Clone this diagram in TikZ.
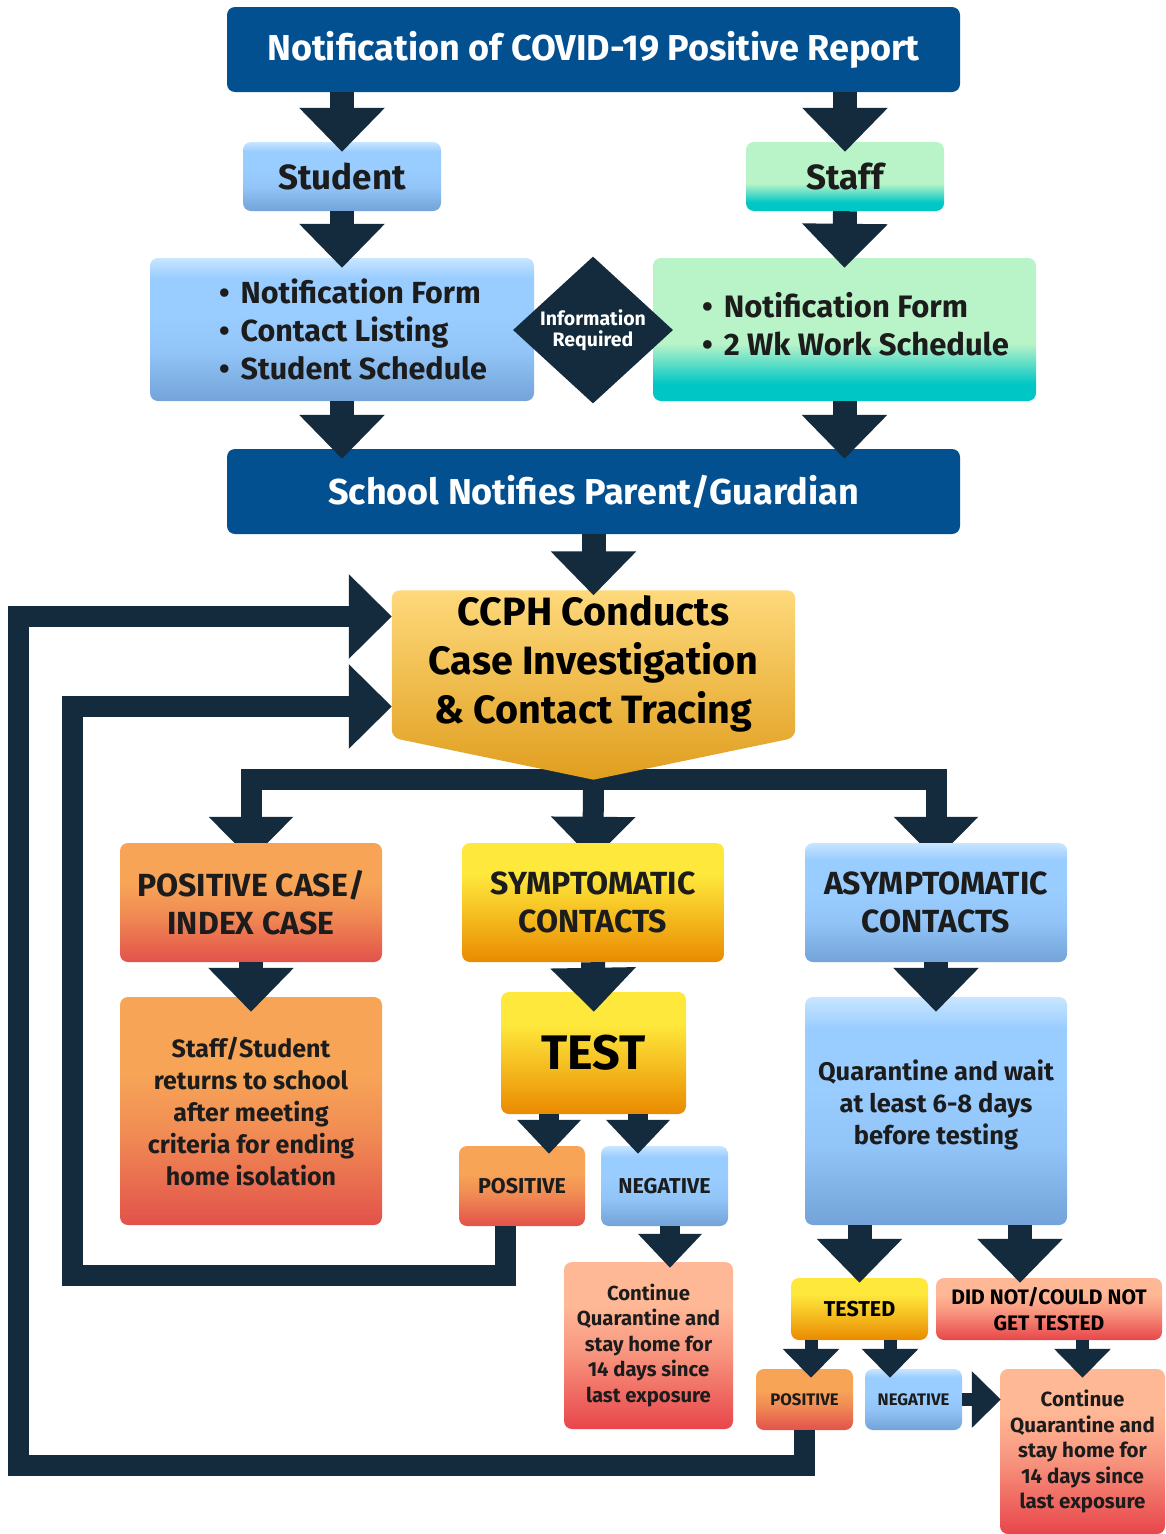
\documentclass[tikz,border=0pt]{standalone}
\usepackage{fontspec}
\setmainfont{Fira Sans}
\usetikzlibrary{shapes.geometric, arrows.meta, backgrounds, calc}

\definecolor{navy1}{RGB}{19, 43, 60}
\definecolor{deepblue}{RGB}{2, 80, 143}
\definecolor{inkgray}{RGB}{28, 28, 28}
\definecolor{bluetop}{RGB}{200, 230, 255}
\definecolor{bluemid}{RGB}{153, 204, 255}
\definecolor{bluebot}{RGB}{115, 163, 216}
\definecolor{greentop}{RGB}{184, 244, 200}
\definecolor{greenbot}{RGB}{0, 198, 198}
\definecolor{orangetop}{RGB}{247, 164, 87}
\definecolor{orangebot}{RGB}{226, 82, 75}
\definecolor{yellowtop}{RGB}{254, 232, 60}
\definecolor{yellowbot}{RGB}{234, 138, 0}
\definecolor{salmontop}{RGB}{255, 184, 150}
\definecolor{salmonbot}{RGB}{232, 70, 74}
\definecolor{goldtop}{RGB}{254, 217, 123}
\definecolor{goldbot}{RGB}{224, 158, 30}

\pgfdeclareverticalshading{blueshade}{100bp}{color(0bp)=(bluebot); color(25bp)=(bluebot); color(42bp)=(bluemid!80!bluebot); color(55bp)=(bluemid); color(68bp)=(bluemid); color(75bp)=(bluetop); color(100bp)=(bluetop)}
\pgfdeclareverticalshading{greenshade}{100bp}{color(0bp)=(greenbot); color(25bp)=(greenbot); color(31bp)=(greenbot); color(45bp)=(greentop); color(75bp)=(greentop); color(100bp)=(greentop)}
\pgfdeclareverticalshading{orangeshade}{100bp}{color(0bp)=(orangebot); color(25bp)=(orangebot); color(45bp)=(orangetop!70!orangebot); color(58bp)=(orangetop); color(75bp)=(orangetop); color(100bp)=(orangetop)}
\pgfdeclareverticalshading{yellowshade}{100bp}{color(0bp)=(yellowbot); color(25bp)=(yellowbot); color(45bp)=(yellowtop!55!yellowbot); color(62bp)=(yellowtop); color(75bp)=(yellowtop); color(100bp)=(yellowtop)}
\pgfdeclareverticalshading{salmonshade}{100bp}{color(0bp)=(salmonbot); color(25bp)=(salmonbot); color(48bp)=(salmontop!70!salmonbot); color(62bp)=(salmontop); color(75bp)=(salmontop); color(100bp)=(salmontop)}
\pgfdeclareverticalshading{goldshade}{100bp}{color(0bp)=(goldbot); color(25bp)=(goldbot); color(75bp)=(goldtop); color(100bp)=(goldtop)}

\newcommand\fsz[2]{\fontsize{#1pt}{#2pt}\selectfont\bfseries}
\newcommand\itm{\hspace*{22pt}\textbullet\hspace{11pt}}

\begin{document}
\begin{tikzpicture}[x=1pt, y=1pt,
  base/.style={rounded corners=8pt, align=center, text=inkgray, inner sep=0pt},
  darkbox/.style={base, fill=deepblue, text=white, minimum width=733pt, minimum height=85pt, font=\fsz{36}{40}},
  bluebox/.style={base, shade, shading=blueshade},
  greenbox/.style={base, shade, shading=greenshade},
  orangebox/.style={base, shade, shading=orangeshade},
  yellowbox/.style={base, shade, shading=yellowshade},
  salmonbox/.style={base, shade, shading=salmonshade},
  rowbox/.style={minimum width=262pt, minimum height=119pt, font=\fsz{32}{38}},
  infobox/.style={diamond, fill=navy1, text=white, inner sep=0pt, minimum width=160pt, minimum height=143pt, align=center, font=\fsz{19.5}{21}},
  flow/.style={draw=navy1, line width=24pt, -{Triangle[width=83pt,length=44pt]}, shorten >=-10pt},
  branchflow/.style={draw=navy1, line width=21pt, -{Triangle[width=82pt,length=43pt]}, shorten >=-17pt},
  midflow/.style={draw=navy1, line width=20pt, -{Triangle[width=62pt,length=34pt]}, shorten >=-8pt},
  tinyflow/.style={draw=navy1, line width=13pt, -{Triangle[width=55pt,length=29pt]}, shorten >=-9pt},
  loopflow/.style={draw=navy1, line width=21pt, -{Triangle[width=82pt,length=43pt]}}
]
  \useasboundingbox (0,0) rectangle (1165,-1534);

  % top part
  \node[darkbox] (title) at (593.5,-49.5) {Notification of COVID-19 Positive Report};
  \node[bluebox, minimum width=198pt, minimum height=69pt, font=\fsz{35}{38}] (student) at (342,-176.5) {Student};
  \node[greenbox, minimum width=198pt, minimum height=69pt, font=\fsz{35}{38}] (staff) at (845,-176.5) {Staff};
  \node[bluebox, minimum width=384pt, minimum height=143pt, font=\fsz{30.5}{38}, align=left] (slist) at (342,-329.5) {
    \itm Notification Form\\
    \itm Contact Listing\\
    \itm Student Schedule};
  \node[greenbox, minimum width=383pt, minimum height=143pt, font=\fsz{31}{38}, align=left] (wlist) at (844.5,-329.5) {
    \itm Notification Form\\
    \itm 2 Wk Work Schedule\\[-26pt]\mbox{}};
  \node[infobox] (info) at (593,-330) {Information\\Required};
  \node[darkbox] (school) at (593.5,-491.5) {School Notifies Parent/Guardian};

  % investigation
  \node[base, minimum width=403pt, minimum height=147pt, font=\fsz{39.5}{49}, text=black] (ccph) at (593.5,-664) {CCPH Conducts\\Case Investigation\\\& Contact Tracing};

  % three branches
  \node[orangebox, rowbox] (poscase) at (251,-902.5) {POSITIVE CASE/\\INDEX CASE};
  \node[yellowbox, rowbox] (sympt) at (593,-902.5) {SYMPTOMATIC\\CONTACTS};
  \node[bluebox, rowbox] (asympt) at (936,-902.5) {ASYMPTOMATIC\\CONTACTS};

  \node[orangebox, minimum width=262pt, minimum height=228pt, font=\fsz{25}{32}] (ret) at (251,-1111) {Staff/Student\\returns to school\\after meeting\\criteria for ending\\home isolation};
  \node[yellowbox, minimum width=185pt, minimum height=122pt, font=\fsz{48.5}{50}, text=black] (test) at (593.5,-1053) {TEST};
  \node[bluebox, minimum width=262pt, minimum height=228pt, font=\fsz{25.5}{32}] (quar) at (936,-1111) {Quarantine and wait\\at least 6-8 days\\before testing\\[-14pt]\mbox{}};

  \node[orangebox, minimum width=126pt, minimum height=80pt, font=\fsz{21.5}{24}] (pos1) at (522,-1186) {POSITIVE};
  \node[bluebox, minimum width=127pt, minimum height=80pt, font=\fsz{21.5}{24}] (neg1) at (664.5,-1186) {NEGATIVE};
  \node[salmonbox, minimum width=169pt, minimum height=167pt, font=\fsz{20.3}{25.5}] (cont1) at (648.5,-1345.5) {Continue\\Quarantine and\\stay home for\\14 days since\\last exposure};

  \node[yellowbox, minimum width=137pt, minimum height=62pt, font=\fsz{21.5}{26}, text=black] (tested) at (859.5,-1309) {TESTED};
  \node[salmonbox, minimum width=226pt, minimum height=62pt, font=\fsz{21}{26}, text=black] (didnot) at (1049,-1309) {DID NOT/COULD NOT\\GET TESTED};
  \node[orangebox, minimum width=97pt, minimum height=61pt, font=\fsz{16.7}{18}] (pos2) at (804.5,-1399.5) {POSITIVE};
  \node[bluebox, minimum width=97pt, minimum height=61pt, font=\fsz{16.7}{18}] (neg2) at (913.5,-1399.5) {NEGATIVE};
  \node[salmonbox, minimum width=165pt, minimum height=165pt, font=\fsz{20.5}{25.5}] (cont2) at (1082.5,-1451.5) {Continue\\Quarantine and\\stay home for\\14 days since\\last exposure};

  % background: split bar under the ccph point
  \begin{scope}[on background layer]
    \fill[white] (0,0) rectangle (1165,-1534);
    \coordinate (split) at ([yshift=-42pt]ccph.south);
    \draw[branchflow] (split) -| (poscase.north);
    \draw[branchflow] (split) -| (asympt.north);
    \draw[branchflow] (split) -- (sympt.north);
    \shade[shading=goldshade] (split) [rounded corners=8pt] -- (ccph.south west) -- (ccph.north west)
      -- (ccph.north east) -- (ccph.south east) [sharp corners] -- cycle;
  \end{scope}

  % arrows
  \draw[flow] (title.south -| student) -- (student.north);
  \draw[flow] (title.south -| staff) -- (staff.north);
  \draw[flow] (student.south) -- (slist.north);
  \draw[flow] (staff.south) -- (wlist.north);
  \draw[flow] (slist.south) -- (slist.south |- school.north);
  \draw[flow] (wlist.south) -- (wlist.south |- school.north);
  \draw[flow, shorten >=-5pt] (school.south) -- (ccph.north);

  \draw[flow, shorten >=-15pt] (poscase.south) -- (ret.north);
  \draw[flow, shorten >=-20pt] (sympt.south) -- (test.north);
  \draw[flow, shorten >=-15pt] (asympt.south) -- (quar.north);

  \coordinate (p1top) at ([xshift=27pt]pos1.north);
  \coordinate (n1top) at ([xshift=-26.5pt]neg1.north);
  \draw[midflow] (p1top |- test.south) -- (p1top);
  \draw[midflow] (n1top |- test.south) -- (n1top);
  \coordinate (n1bot) at ([xshift=5.5pt]neg1.south);
  \draw[midflow, shorten >=-6pt] (n1bot) -- (n1bot |- cont1.north);

  \coordinate (dntop) at ([xshift=-29pt]didnot.north);
  \draw[flow, shorten >=-5pt] (tested.north |- quar.south) -- (tested.north);
  \draw[flow, shorten >=-5pt] (dntop |- quar.south) -- (dntop);

  \coordinate (p2top) at ([xshift=6.5pt]pos2.north);
  \coordinate (n2top) at ([xshift=-23.5pt]neg2.north);
  \draw[tinyflow] (p2top |- tested.south) -- (p2top);
  \draw[tinyflow] (n2top |- tested.south) -- (n2top);
  \draw[tinyflow] (didnot.south -| cont2) -- (cont2.north);
  \draw[tinyflow, shorten >=-1pt] (neg2.east) -- (neg2.east -| cont2.west);

  % loops back to ccph
  \coordinate (outer) at (18,-1465);
  \coordinate (inner) at (72,-1275);
  \draw[loopflow] (pos2.south) |- (outer) |- ([yshift=47.5pt]ccph.west);
  \draw[loopflow] ([xshift=-17pt]pos1.south) |- (inner) |- ([yshift=-42.5pt]ccph.west);
\end{tikzpicture}
\end{document}
